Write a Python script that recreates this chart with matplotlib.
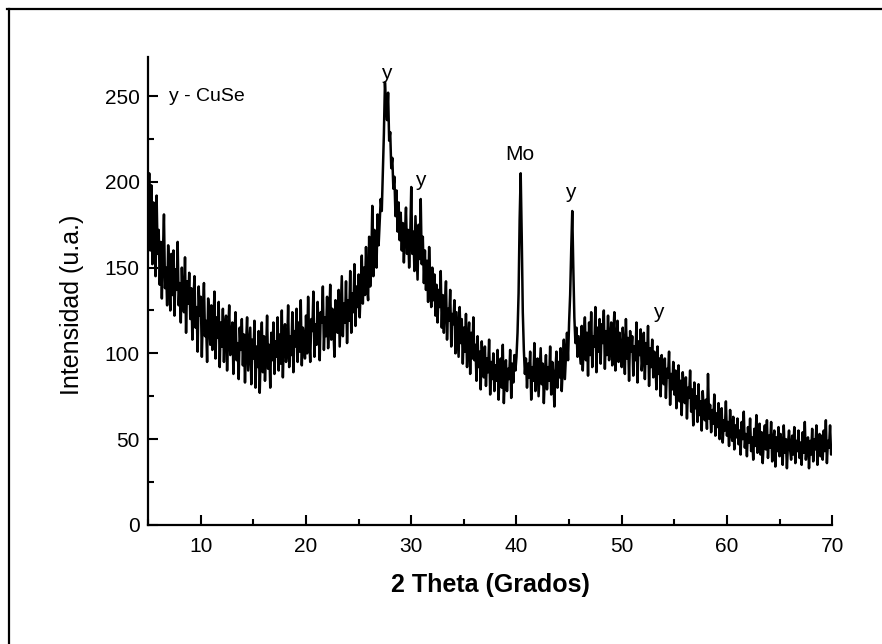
import numpy as np
import matplotlib
matplotlib.use("Agg")
import matplotlib.pyplot as plt
from matplotlib.lines import Line2D
from matplotlib.ticker import MultipleLocator

plt.rcParams["font.family"] = ["Liberation Sans", "DejaVu Sans"]

# XRD scan, 2-theta from 5 to 70 deg in 0.1 deg steps (one row per degree)
two_theta = np.round(np.arange(5.0, 70.05, 0.1), 1)
intensity = [
    182, 205, 160, 198, 152, 188, 170, 145, 192, 158,   # 5
    172, 140, 165, 132, 158, 181, 138, 150, 128, 163,   # 6
    146, 125, 158, 134, 160, 122, 149, 137, 165, 128,   # 7
    141, 118, 150, 131, 124, 156, 112, 142, 129, 147,   # 8
    120, 138, 108, 131, 145, 115, 127, 101, 139, 122,   # 9
    133, 98, 125, 141, 110, 119, 95, 132, 121, 105,     # 10
    128, 102, 117, 136, 97, 121, 109, 130, 92, 118,     # 11
    104, 126, 95, 115, 122, 90, 112, 128, 99, 108,      # 12
    118, 88, 110, 124, 96, 106, 85, 115, 102, 120,      # 13
    93, 111, 83, 105, 121, 90, 102, 115, 82, 108,       # 14
    97, 119, 80, 104, 92, 113, 77, 101, 118, 89,        # 15
    110, 84, 99, 122, 91, 105, 80, 112, 96, 118,        # 16
    88, 107, 98, 121, 90, 111, 94, 125, 86, 109,        # 17
    117, 95, 102, 128, 92, 110, 99, 124, 89, 113,       # 18
    104, 126, 95, 118, 101, 131, 93, 115, 108, 97,      # 19
    122, 100, 133, 109, 95, 120, 113, 136, 98, 117,     # 20
    105, 130, 112, 96, 124, 118, 139, 102, 121, 110,    # 21
    133, 103, 119, 140, 108, 126, 115, 98, 131, 122,    # 22
    112, 137, 104, 125, 145, 110, 129, 118, 142, 106,   # 23
    131, 119, 148, 112, 135, 124, 152, 116, 139, 127,   # 24
    146, 121, 138, 157, 129, 150, 134, 162, 140, 131,   # 25
    168, 139, 155, 186, 145, 172, 160, 150, 181, 163,   # 26
    176, 190, 183, 205, 228, 258, 246, 236, 252, 224,   # 27
    229, 208, 214, 196, 203, 180, 195, 171, 188, 166,   # 28
    182, 160, 176, 153, 170, 185, 158, 172, 150, 167,   # 29
    197, 158, 171, 148, 180, 162, 143, 175, 155, 190,   # 30
    152, 168, 141, 160, 137, 154, 130, 162, 143, 127,   # 31
    150, 131, 146, 122, 140, 118, 137, 127, 148, 115,   # 32
    134, 112, 129, 142, 108, 126, 119, 137, 104, 123,   # 33
    117, 131, 100, 124, 111, 98, 127, 106, 120, 94,     # 34
    115, 101, 123, 92, 108, 118, 88, 112, 97, 121,      # 35
    96, 105, 84, 110, 92, 101, 79, 107, 93, 86,         # 36
    104, 81, 97, 89, 108, 76, 95, 85, 100, 78,          # 37
    93, 84, 102, 73, 90, 97, 80, 105, 71, 88,           # 38
    96, 78, 91, 85, 102, 74, 94, 83, 99, 90,            # 39
    98, 112, 135, 178, 205, 168, 124, 102, 88, 97,      # 40
    80, 94, 86, 101, 73, 92, 84, 106, 78, 90,           # 41
    97, 75, 89, 103, 82, 94, 71, 88, 99, 79,            # 42
    92, 84, 104, 76, 95, 87, 69, 90, 101, 80,           # 43
    95, 86, 103, 78, 92, 108, 85, 99, 112, 96,          # 44
    118, 134, 160, 183, 150, 121, 106, 115, 98, 110,    # 45
    102, 94, 116, 90, 108, 121, 96, 112, 87, 118,       # 46
    99, 124, 92, 110, 104, 127, 89, 115, 101, 120,      # 47
    94, 117, 106, 125, 91, 113, 99, 122, 96, 108,       # 48
    118, 93, 110, 124, 90, 106, 119, 95, 112, 100,      # 49
    92, 115, 103, 88, 120, 97, 109, 84, 113, 101,       # 50
    110, 87, 104, 96, 118, 83, 107, 99, 114, 90,        # 51
    98, 112, 85, 106, 94, 116, 81, 103, 92, 108,        # 52
    86, 101, 95, 79, 104, 88, 97, 75, 99, 90,           # 53
    82, 97, 74, 91, 86, 101, 70, 88, 79, 95,            # 54
    76, 90, 68, 85, 93, 72, 84, 64, 89, 78,             # 55
    71, 86, 62, 80, 74, 90, 66, 79, 58, 83,             # 56
    68, 75, 60, 82, 64, 72, 55, 78, 66, 61,             # 57
    73, 56, 88, 62, 70, 54, 67, 59, 76, 52,             # 58
    65, 57, 71, 50, 63, 68, 48, 61, 55, 72,             # 59
    52, 60, 46, 67, 54, 49, 63, 44, 58, 51,             # 60
    62, 47, 55, 41, 60, 50, 66, 45, 53, 40,             # 61
    57, 48, 62, 43, 51, 38, 56, 46, 64, 42,             # 62
    50, 59, 41, 54, 36, 49, 58, 44, 61, 39,             # 63
    52, 45, 60, 37, 48, 55, 34, 51, 43, 57,             # 64
    40, 53, 46, 35, 58, 42, 50, 33, 47, 55,             # 65
    44, 38, 52, 41, 57, 36, 49, 43, 55, 39,             # 66
    48, 35, 54, 42, 60, 38, 46, 51, 33, 49,             # 67
    41, 56, 37, 50, 44, 58, 35, 47, 53, 40,             # 68
    52, 38, 55, 43, 61, 36, 49, 45, 58, 41,             # 69
    44,                                                 # 70
]

# peak labels: text, 2-theta, intensity
peak_labels = ["y", "y", "Mo", "y", "y"]
peak_x = [27.6, 30.85, 40.3, 45.1, 53.5]
peak_y = [263, 201, 216, 194, 124]

fig = plt.figure(figsize=(8.82, 6.44), dpi=100)
ax = fig.add_axes([0.168, 0.185, 0.7755, 0.727])

ax.plot(two_theta, intensity, color="black", lw=1.8)

ax.set_xlim(5, 70)
ax.set_ylim(0, 273)
for s in ("top", "right"):
    ax.spines[s].set_visible(False)
for s in ("left", "bottom"):
    ax.spines[s].set_linewidth(1.6)

ax.xaxis.set_major_locator(MultipleLocator(10))
ax.xaxis.set_minor_locator(MultipleLocator(5))
ax.yaxis.set_major_locator(MultipleLocator(50))
ax.yaxis.set_minor_locator(MultipleLocator(25))
ax.tick_params(which="both", direction="in", width=1.5, labelsize=15)
ax.tick_params(which="major", length=7)
ax.tick_params(which="minor", length=4)
ax.tick_params(axis="y", pad=6)
ax.tick_params(axis="x", pad=9)
ax.set_xticks([10, 20, 30, 40, 50, 60, 70])

ax.set_xlabel("2 Theta (Grados)", fontsize=18, fontweight="bold", labelpad=12)
ax.set_ylabel("Intensidad (u.a.)", fontsize=18)
ax.yaxis.set_label_coords(-0.094, 0.47)

ax.text(7.0, 250, "y - CuSe", fontsize=14, va="center")
for lab, px, py in zip(peak_labels, peak_x, peak_y):
    ax.text(px, py, lab, fontsize=15, ha="center", va="center")

# border of the page frame (top and left edges)
fig.add_artist(Line2D([7 / 882, 1], [1 - 9 / 644, 1 - 9 / 644], color="black", lw=1.6))
fig.add_artist(Line2D([9 / 882, 9 / 882], [0, 1 - 9 / 644], color="black", lw=1.6))

fig.savefig("out.png", dpi=100)
